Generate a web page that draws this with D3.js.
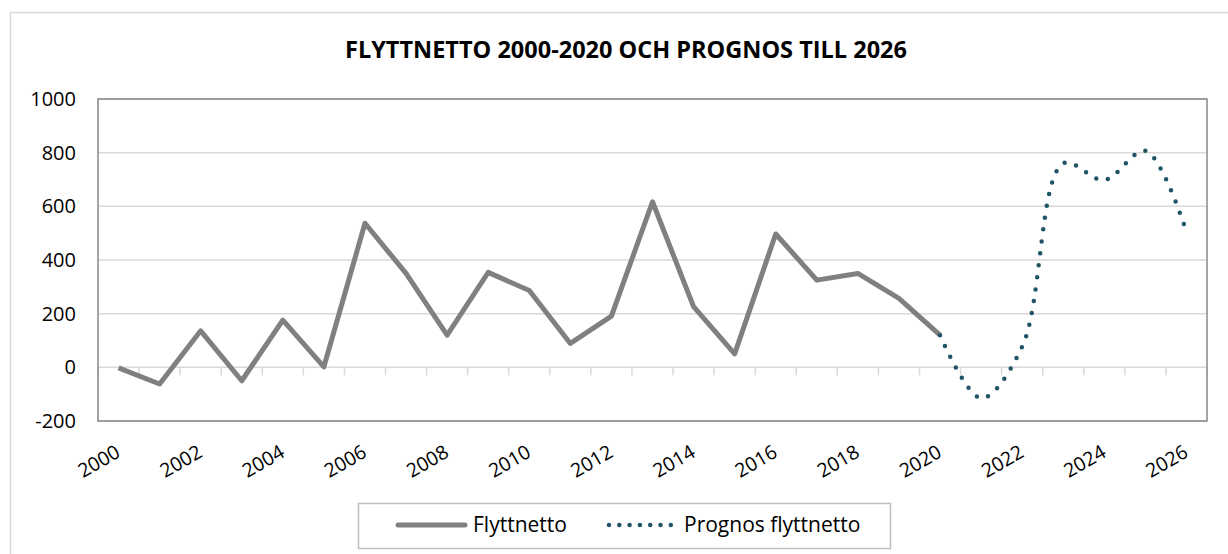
<!DOCTYPE html>
<html>
<head>
<meta charset="utf-8">
<script src="https://cdn.jsdelivr.net/npm/d3@7"></script>
<style>
    body { margin: 0; background: #fff; }
    svg { display: block; font-family: "Open Sans", sans-serif; }
</style>
</head>
<body>
<div id="chart"></div>
<script>
var years = [2000, 2001, 2002, 2003, 2004, 2005, 2006, 2007, 2008, 2009, 2010, 2011, 2012, 2013,
             2014, 2015, 2016, 2017, 2018, 2019, 2020, 2021, 2022, 2023, 2024, 2025, 2026];

// Flyttnetto, utfall 2000-2020
var flyttnetto = [-2, -62, 136, -50, 176, 2, 537, 350, 120, 354, 286, 89, 191, 617,
                  226, 50, 497, 325, 350, 257, 120];

// Prognos 2020-2026
var prognosYears = [2020, 2021, 2022, 2023, 2024, 2025, 2026];
var prognos = [120, -115, 77, 760, 698, 807, 505];

var yTicks = [-200, 0, 200, 400, 600, 800, 1000];
var xLabels = years.filter(function(d) { return d % 2 === 0; });

var title = "FLYTTNETTO 2000-2020 OCH PROGNOS TILL 2026";
var seriesNames = ["Flyttnetto", "Prognos flyttnetto"];

var full_width = 1228,
    full_height = 554;

var margin = { top: 99, right: 21, bottom: 133, left: 98 };
var width = full_width - margin.left - margin.right;
var height = full_height - margin.top - margin.bottom;

var grey = "#808080",
    teal = "#1f5566",
    gridColor = "#d9d9d9";

var svg = d3.select("#chart")
    .append("svg")
    .attr("width", full_width)
    .attr("height", full_height);

// outer chart border
svg.append("rect")
    .attr("x", 10.5)
    .attr("y", 12.5)
    .attr("width", 1260)
    .attr("height", 600)
    .attr("fill", "none")
    .attr("stroke", gridColor)
    .attr("stroke-width", 1.5);

// title
svg.append("text")
    .attr("x", 626)
    .attr("y", 58)
    .attr("text-anchor", "middle")
    .style("font-size", "23.5px")
    .style("font-weight", "bold")
    .attr("fill", "#000")
    .text(title);

var x = d3.scaleBand()
    .domain(years)
    .range([0, width]);

var y = d3.scaleLinear()
    .domain([-200, 1000])
    .range([height, 0]);

var g = svg.append("g")
    .attr("transform", "translate(" + margin.left + "," + margin.top + ")");

// gridlines
g.append("g")
    .selectAll("line")
    .data(yTicks)
    .enter()
    .append("line")
    .attr("x1", 0)
    .attr("x2", width)
    .attr("y1", function(d) { return y(d); })
    .attr("y2", function(d) { return y(d); })
    .attr("stroke", gridColor)
    .attr("stroke-width", 1.5);

// X axis at zero, ticks between categories
var xAxis = g.append("g")
    .attr("transform", "translate(0," + y(0) + ")");

xAxis.selectAll("line")
    .data(d3.range(years.length + 1))
    .enter()
    .append("line")
    .attr("x1", function(i) { return i * x.step(); })
    .attr("x2", function(i) { return i * x.step(); })
    .attr("y1", 0)
    .attr("y2", 8)
    .attr("stroke", gridColor)
    .attr("stroke-width", 1.5);

// X labels, under the plot area
g.append("g")
    .selectAll("text")
    .data(xLabels)
    .enter()
    .append("text")
    .attr("transform", function(d) {
        return "translate(" + (x(d) + x.bandwidth() / 2 + 3) + "," + (height + 35) + ") rotate(-30)";
    })
    .attr("text-anchor", "end")
    .style("font-size", "19.5px")
    .attr("fill", "#000")
    .text(function(d) { return d; });

// Y labels
var yAxis = g.append("g")
    .call(d3.axisLeft(y)
        .tickValues(yTicks)
        .tickSize(0)
        .tickPadding(22)
        .tickFormat(function(d) { return String(d); }));
yAxis.select(".domain").remove();
yAxis.selectAll("text")
    .style("font-size", "20px")
    .style("font-family", "Open Sans, sans-serif")
    .attr("fill", "#000");

// plot area border
g.append("rect")
    .attr("x", 0)
    .attr("y", 0)
    .attr("width", width)
    .attr("height", height)
    .attr("fill", "none")
    .attr("stroke", "#888")
    .attr("stroke-width", 1.5);

var cx = function(d) { return x(d) + x.bandwidth() / 2; };

// Flyttnetto line
var line = d3.line()
    .x(function(d, i) { return cx(years[i]); })
    .y(function(d) { return y(d); });

g.append("path")
    .datum(flyttnetto)
    .attr("fill", "none")
    .attr("stroke", grey)
    .attr("stroke-width", 5)
    .attr("stroke-linejoin", "round")
    .attr("d", line);

// Prognos, smoothed dotted line
var prognosLine = d3.line()
    .x(function(d, i) { return cx(prognosYears[i]); })
    .y(function(d) { return y(d); })
    .curve(d3.curveCatmullRom.alpha(0.5));

g.append("path")
    .datum(prognos)
    .attr("fill", "none")
    .attr("stroke", teal)
    .attr("stroke-width", 4.5)
    .attr("stroke-linecap", "round")
    .attr("stroke-dasharray", "0 12")
    .attr("d", prognosLine);

// legend
var legend = svg.append("g");

legend.append("rect")
    .attr("x", 358.5)
    .attr("y", 503.5)
    .attr("width", 532)
    .attr("height", 45)
    .attr("fill", "#fff")
    .attr("stroke", "#bfbfbf")
    .attr("stroke-width", 1.5);

legend.append("line")
    .attr("x1", 398).attr("x2", 465)
    .attr("y1", 525).attr("y2", 525)
    .attr("stroke", grey)
    .attr("stroke-width", 5)
    .attr("stroke-linecap", "round");

legend.append("text")
    .attr("x", 473)
    .attr("y", 532)
    .style("font-size", "21px")
    .attr("fill", "#000")
    .text(seriesNames[0]);

legend.append("line")
    .attr("x1", 609).attr("x2", 672)
    .attr("y1", 525).attr("y2", 525)
    .attr("stroke", teal)
    .attr("stroke-width", 4.5)
    .attr("stroke-linecap", "round")
    .attr("stroke-dasharray", "0 10.3");

legend.append("text")
    .attr("x", 684)
    .attr("y", 532)
    .style("font-size", "21px")
    .attr("fill", "#000")
    .text(seriesNames[1]);
</script>
</body>
</html>
